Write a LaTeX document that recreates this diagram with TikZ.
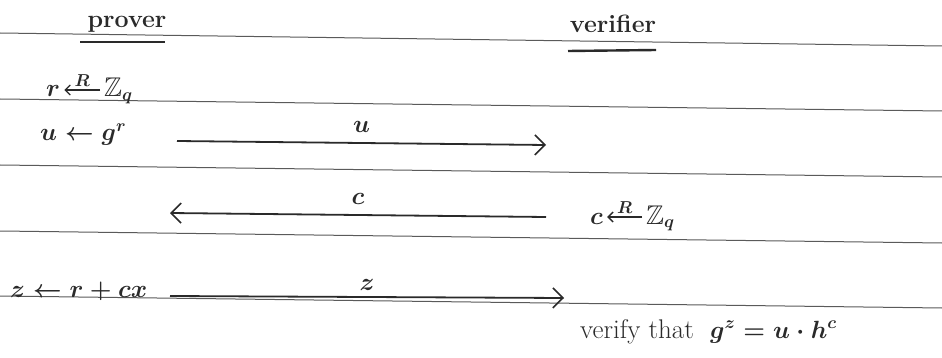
\documentclass[tikz,border=0pt]{standalone}
\usepackage{amsmath,amssymb}
\usetikzlibrary{arrows.meta}
\definecolor{pencil}{HTML}{2A2A2A}
\definecolor{rule}{HTML}{5A5A5A}
\tikzset{
  ruled/.style={draw=rule, line width=1pt},
  msg/.style={draw=pencil, line width=1.8pt, -{Straight Barb[length=10pt,width=20pt,line width=1.6pt]}},
  pick/.style={draw=pencil, line width=1.5pt, -{Straight Barb[length=5pt,width=10pt,line width=1.3pt]}},
  hand/.style={text=pencil, font=\fontsize{27}{31}\selectfont\boldmath, inner sep=0pt},
  tiny/.style={text=pencil, font=\fontsize{16}{19}\selectfont\boldmath, inner sep=0pt},
  small/.style={text=pencil, font=\fontsize{25}{29}\selectfont\bfseries, inner sep=0pt},
  uline/.style={draw=pencil, line width=2.4pt}
}
\begin{document}
\begin{tikzpicture}[x=1pt,y=-1pt]
\useasboundingbox[fill=white] (0,0) rectangle (942,358);
% ruled lines of the paper
\draw[ruled] (0,33) -- (942,46);
\draw[ruled] (0,99) -- (942,111);
\draw[ruled] (0,165) -- (942,177);
\draw[ruled] (0,231) -- (942,243);
\draw[ruled] (0,296) -- (942,308);
% headings
\node[small, anchor=base] (prover) at (127,28) {prover};
\draw[uline] (80,42) -- (165,42);
\node[small, anchor=base] (verifier) at (613,33) {verifier};
\draw[uline] (568,51) -- (656,50);
% prover side
\node[hand, anchor=base west] (rvar) at (46,97) {$r$};
\node[hand, anchor=base west] (rset) at (104,97) {$\mathbb{Z}_q$};
\draw[pick] ([xshift=-4pt,yshift=7pt]rset.base west) -- node[tiny, above=3pt] (rR) {$R$} ([xshift=4pt,yshift=7pt]rvar.base east);
\node[hand, anchor=base west] (ustep) at (40,141) {$u \leftarrow g^r$};
\node[hand, anchor=base west] (zstep) at (10,297) {$z \leftarrow r + cx$};
% verifier side
\node[hand, anchor=base west] (cvar) at (590,224) {$c$};
\node[hand, anchor=base west] (cset) at (646,224) {$\mathbb{Z}_q$};
\draw[pick] ([xshift=-4pt,yshift=7pt]cset.base west) -- node[tiny, above=3pt] (cR) {$R$} ([xshift=4pt,yshift=7pt]cvar.base east);
\node[hand, anchor=base west] (check) at (580,338) {verify that\ \ $g^{z} = u\cdot h^{c}$};
% message endpoints
\coordinate (u0) at (177,141);
\coordinate (u1) at (546,145);
\coordinate (c0) at (546,217);
\coordinate (c1) at (170,213);
\coordinate (z0) at (170,296);
\coordinate (z1) at (564,298);
\draw[msg] (u0) -- node[hand, above=10pt] (ulab) {$u$} (u1);
\draw[msg] (c0) -- node[hand, above=10pt] (clab) {$c$} (c1);
\draw[msg] (z0) -- node[hand, above=6pt] (zlab) {$z$} (z1);
\end{tikzpicture}
\end{document}
